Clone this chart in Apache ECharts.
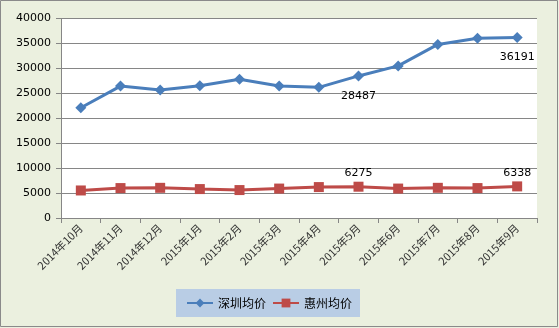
<!DOCTYPE html>
<html><head><meta charset="utf-8">
<script src="https://cdn.jsdelivr.net/npm/echarts@6/dist/echarts.min.js"></script>
<style>html,body{margin:0;padding:0;}#c{width:559px;height:328px;}</style>
</head><body><div id="c"></div>
<script>
var categories = ['2014年10月','2014年11月','2014年12月','2015年1月','2015年2月','2015年3月','2015年4月','2015年5月','2015年6月','2015年7月','2015年8月','2015年9月'];
var shenzhen = [22100, 26450, 25650, 26500, 27800, 26450, 26200, 28487, 30500, 34800, 36050, 36191];
var huizhou = [5520, 6000, 6050, 5800, 5600, 5900, 6200, 6275, 5900, 6050, 6000, 6338];
var szLabels = {7: 'bottom', 11: 'bottom'};
var hzLabels = {7: 'top', 11: 'top'};

function mk(arr, labels, dist) {
  return arr.map(function (v, i) {
    if (labels[i]) {
      return { value: v, label: { show: true, position: labels[i], distance: dist, color: '#000', fontSize: 11, fontFamily: 'DejaVu Sans' } };
    }
    return v;
  });
}

var chart = echarts.init(document.getElementById('c'));
chart.setOption({
  backgroundColor: '#EBF0DF',
  animation: false,
  graphic: [
    { type: 'rect', shape: { x: 0.5, y: 0.5, width: 557, height: 326 }, style: { fill: null, stroke: '#8A8A8A', lineWidth: 1 } },
    { type: 'rect', z: -1, shape: { x: 61, y: 18, width: 476, height: 200 }, style: { fill: '#fff' } }
  ],
  grid: { left: 61, right: 22, top: 18.5, bottom: 110, containLabel: false },
  legend: {
    data: ['深圳均价', '惠州均价'],
    left: 176, top: 289,
    backgroundColor: '#B9CDE5',
    padding: [8, 8, 8, 10],
    itemWidth: 26, itemHeight: 11, itemGap: 6,
    textStyle: { fontSize: 12, color: '#000', fontFamily: 'Noto Sans CJK SC' }
  },
  xAxis: {
    type: 'category', data: categories, boundaryGap: true,
    axisLine: { lineStyle: { color: '#868686' } },
    axisTick: { show: true, length: 5, lineStyle: { color: '#868686' } },
    axisLabel: { rotate: 45, fontSize: 11, color: '#333', margin: 8, interval: 0, fontFamily: 'Noto Sans CJK SC' }
  },
  yAxis: {
    type: 'value', min: 0, max: 40000, interval: 5000,
    axisLine: { show: true, lineStyle: { color: '#868686' } },
    axisTick: { show: true, length: 5, lineStyle: { color: '#868686' } },
    splitLine: { lineStyle: { color: '#868686' } },
    axisLabel: { fontSize: 11, color: '#000', margin: 10, fontFamily: 'DejaVu Sans', formatter: function (v) { return String(v); } }
  },
  series: [
    {
      name: '深圳均价', type: 'line', data: mk(shenzhen, szLabels, 9),
      symbol: 'diamond', symbolSize: 11,
      lineStyle: { color: '#4A7EBB', width: 3 },
      itemStyle: { color: '#4A7EBB' }
    },
    {
      name: '惠州均价', type: 'line', data: mk(huizhou, hzLabels, 3),
      symbol: 'rect', symbolSize: 10,
      lineStyle: { color: '#BE4B48', width: 3 },
      itemStyle: { color: '#BE4B48' }
    }
  ]
});
</script></body></html>
